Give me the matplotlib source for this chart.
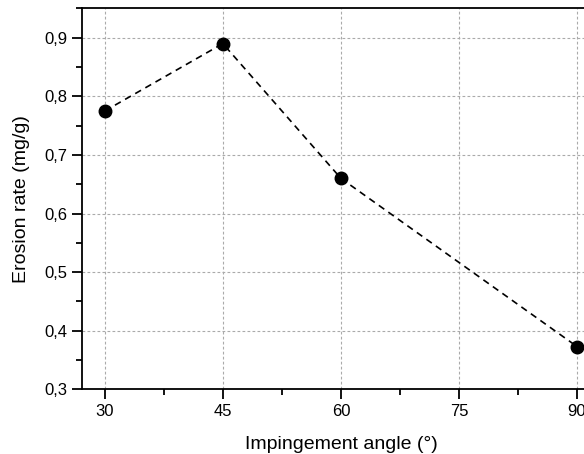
import numpy as np
import matplotlib.pyplot as plt
from matplotlib.ticker import MultipleLocator, FuncFormatter

angle = [30, 45, 60, 90]
erosion = [0.775, 0.89, 0.66, 0.373]

plt.rcParams['font.family'] = ['Liberation Sans', 'DejaVu Sans']

fig = plt.figure(figsize=(5.84, 4.54), dpi=100)
ax = fig.add_axes([82/584, 64.7/454, 518.6/584, 381.3/454])

ax.plot(angle, erosion, color='black', ls='--', lw=1.2, dashes=(4, 3),
        marker='o', ms=9, mfc='black', mec='black', zorder=3)

ax.set_xlim(27.1, 93.0)
ax.set_ylim(0.3, 0.9507)
ax.xaxis.set_major_locator(MultipleLocator(15))
ax.xaxis.set_minor_locator(MultipleLocator(7.5))
ax.yaxis.set_major_locator(MultipleLocator(0.1))
ax.yaxis.set_minor_locator(MultipleLocator(0.05))
ax.yaxis.set_major_formatter(FuncFormatter(lambda v, p: ('%.1f' % v).replace('.', ',')))

ax.grid(True, which='major', color='#aaaaaa', ls=(0, (2.5, 2)), lw=0.8)
ax.tick_params(which='major', direction='out', length=7, width=1.3, labelsize=12)
ax.tick_params(which='minor', direction='out', length=4, width=1.3)
for s in ['left', 'bottom', 'top']:
    ax.spines[s].set_linewidth(1.3)
ax.spines['right'].set_visible(False)

# the source image is cropped on the right, so the "90" label is cut like in the reference
ax.set_xlabel('Impingement angle (°)', fontsize=14, labelpad=12)
ax.set_ylabel('Erosion rate (mg/g)', fontsize=14, labelpad=10)

fig.savefig('out.png', dpi=100)
